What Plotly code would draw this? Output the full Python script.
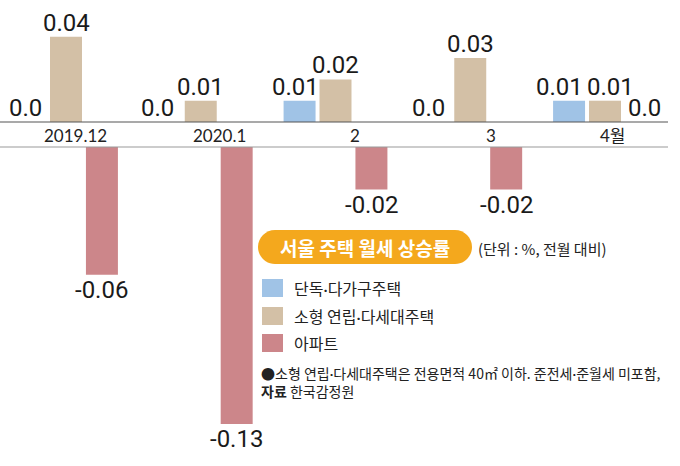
import plotly.graph_objects as go

categories = ["2019.12", "2020.1", "2", "3", "4월"]
series_names = ["단독·다가구주택", "소형 연립·다세대주택", "아파트"]
detached = [0.0, 0.0, 0.01, 0.0, 0.01]
small_multi = [0.04, 0.01, 0.02, 0.03, 0.01]
apartment = [-0.06, -0.13, -0.02, -0.02, 0.0]
series_values = [detached, small_multi, apartment]
colors = ["#A0C3E6", "#D3C0A6", "#CC868A"]

W, H = 680, 466
K = 2130.0          # pixels per unit of value
BASE_TOP = 122      # pixel y of upper zero line
BASE_BOT = 147      # pixel y of lower zero line
PLOT_RIGHT = 668
GROUP_PX = 134.75
FIRST_CENTER = 66

def px_x(p):
    return p / W

def px_y(p):
    return 1 - p / H

x0 = -FIRST_CENTER / GROUP_PX
x1 = (PLOT_RIGHT - FIRST_CENTER) / GROUP_PX
xs = list(range(len(categories)))

fig = go.Figure()
for name, vals, col in zip(series_names, series_values, colors):
    fig.add_trace(go.Bar(x=xs, y=vals, name=name, marker=dict(color=col, line=dict(width=0)),
                         xaxis="x", yaxis="y", showlegend=False, hoverinfo="skip"))
    fig.add_trace(go.Bar(x=xs, y=vals, name=name, marker=dict(color=col, line=dict(width=0)),
                         xaxis="x2", yaxis="y2", showlegend=False, hoverinfo="skip"))

annotations = []
slot = 0.8 / 3
label_font = dict(family="Roboto, Noto Sans CJK KR", size=24, color="#1a1a1a")
# small horizontal nudges of value labels (pixels), per series / group
label_nudge = [[-5, -7, -4, -6, -10], [0, 0, 0, 0, 5], [0, 0, 0, 0, 4]]
for j, vals in enumerate(series_values):
    for i, v in enumerate(vals):
        xpos = i + (j - 1) * slot
        txt = f"{v:.2f}" if v != 0 else "0.0"
        if v >= 0:
            annotations.append(dict(x=xpos, y=v, xref="x", yref="y", text=txt, showarrow=False,
                                    yanchor="bottom", yshift=-2, xshift=label_nudge[j][i], font=label_font))
        else:
            annotations.append(dict(x=xpos, y=v, xref="x2", yref="y2", text=txt, showarrow=False,
                                    yanchor="top", yshift=1, xshift=label_nudge[j][i], font=label_font))

cat_shift = [0.074, 0.141, 0.141, 0.156, 0.059]
for i, c in enumerate(categories):
    annotations.append(dict(x=i + cat_shift[i], y=px_y(135), xref="x", yref="paper", text=c,
                            showarrow=False, yanchor="middle",
                            font=dict(family="Lato, Noto Sans CJK KR", size=17, color="#222")))

# legend title pill
pill_l, pill_r, pill_t, pill_b = 258, 472, 230, 264
r = (pill_b - pill_t) / 2
c = 0.5523 * r
def P(x, y):
    return f"{px_x(x):.5f},{px_y(y):.5f}"
path = (f"M {P(pill_l + r, pill_t)} L {P(pill_r - r, pill_t)} "
        f"C {P(pill_r - r + c, pill_t)} {P(pill_r, pill_t + r - c)} {P(pill_r, pill_t + r)} "
        f"C {P(pill_r, pill_t + r + c)} {P(pill_r - r + c, pill_b)} {P(pill_r - r, pill_b)} "
        f"L {P(pill_l + r, pill_b)} "
        f"C {P(pill_l + r - c, pill_b)} {P(pill_l, pill_t + r + c)} {P(pill_l, pill_t + r)} "
        f"C {P(pill_l, pill_t + r - c)} {P(pill_l + r - c, pill_t)} {P(pill_l + r, pill_t)} Z")

shapes = [
    dict(type="line", xref="paper", yref="paper", x0=0, x1=px_x(PLOT_RIGHT), y0=px_y(BASE_TOP), y1=px_y(BASE_TOP),
         line=dict(color="#555", width=1.2)),
    dict(type="line", xref="paper", yref="paper", x0=0, x1=px_x(PLOT_RIGHT), y0=px_y(BASE_BOT), y1=px_y(BASE_BOT),
         line=dict(color="#999", width=1)),
    dict(type="path", xref="paper", yref="paper", path=path, fillcolor="#F4A81D", line=dict(width=0)),
]

DOT = '<span style="font-family:Lato">·</span>'

annotations.append(dict(x=px_x((pill_l + pill_r) / 2), y=px_y((pill_t + pill_b) / 2), xref="paper", yref="paper",
                        text="<b>서울 주택 월세 상승률</b>", showarrow=False, xanchor="center", yanchor="middle",
                        font=dict(family="Noto Sans CJK KR", size=19, color="white")))
annotations.append(dict(x=px_x(476), y=px_y(248), xref="paper", yref="paper",
                        text="(단위 : %, 전월 대비)", showarrow=False, xanchor="left", yanchor="middle",
                        font=dict(family="Noto Sans CJK KR", size=15, color="#222")))

rows_y = [288, 316, 343]
for name, col, yy in zip(series_names, colors, rows_y):
    shapes.append(dict(type="rect", xref="paper", yref="paper", x0=px_x(262), x1=px_x(283),
                       y0=px_y(yy - 9), y1=px_y(yy + 9), fillcolor=col, line=dict(width=0)))
    annotations.append(dict(x=px_x(292), y=px_y(yy), xref="paper", yref="paper", text=name.replace("·", DOT),
                            showarrow=False, xanchor="left", yanchor="middle",
                            font=dict(family="Noto Sans CJK KR", size=16, color="#222")))

footnote = ("●소형 연립·다세대주택은 전용면적 40㎡ 이하. 준전세·준월세 미포함,".replace("·", DOT)
            + "<br><b>자료</b> 한국감정원")
annotations.append(dict(x=px_x(259), y=px_y(382), xref="paper", yref="paper",
                        text=footnote, align="left",
                        showarrow=False, xanchor="left", yanchor="middle",
                        font=dict(family="Noto Sans CJK KR", size=14, color="#222")))

fig.update_layout(
    width=W, height=H, margin=dict(l=0, r=0, t=0, b=0),
    paper_bgcolor="white", plot_bgcolor="white",
    barmode="group", bargap=0.2, bargroupgap=0.11,
    xaxis=dict(domain=[0, px_x(PLOT_RIGHT)], range=[x0, x1], visible=False, anchor="y"),
    xaxis2=dict(domain=[0, px_x(PLOT_RIGHT)], range=[x0, x1], visible=False, anchor="y2", matches="x"),
    yaxis=dict(domain=[px_y(BASE_TOP), 1], range=[0, BASE_TOP / K], visible=False, anchor="x"),
    yaxis2=dict(domain=[0, px_y(BASE_BOT)], range=[-(H - BASE_BOT) / K, 0], visible=False, anchor="x2"),
    shapes=shapes, annotations=annotations, showlegend=False,
)

fig.write_html("out.html")
